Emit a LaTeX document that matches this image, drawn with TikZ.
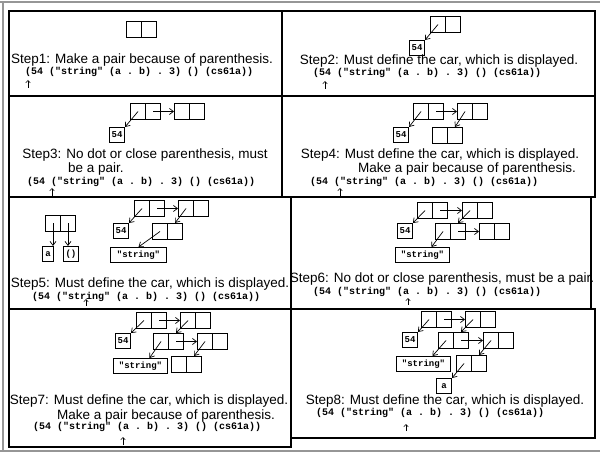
\documentclass[tikz,border=0pt]{standalone}
\usepackage{fontspec}
\setmainfont{Liberation Sans}
\setmonofont{Liberation Mono}
\usetikzlibrary{arrows.meta}
\definecolor{framegray}{RGB}{150,150,150}
\tikzset{
  cell/.style={draw, line width=1pt, minimum width=15pt, minimum height=16pt, inner sep=0pt, anchor=north west},
  atom/.style={draw, line width=1pt, minimum height=15pt, minimum width=15pt, inner xsep=2pt, inner ysep=0pt, font=\ttfamily\bfseries\fontsize{9}{10}\selectfont, anchor=north west},
  ptr/.style={line width=0.7pt, -{Straight Barb[length=4pt,width=6pt]}},
  stepmark/.style={line width=0.5pt, -{Straight Barb[length=2.5pt,width=4.5pt]}},
  panel/.style={draw, line width=1.1pt},
  outer/.style={draw=framegray, line width=2pt},
  txt/.style={font=\fontsize{13.5}{16}\selectfont, inner sep=0pt},
  txtl/.style={txt, anchor=west},
  code/.style={font=\ttfamily\bfseries\fontsize{10}{12}\selectfont, inner sep=0pt, anchor=west},
}
\newcommand\mkpair[3]{\node[cell] (#1a) at (#2,#3) {}; \node[cell] (#1d) at ({#2+15},#3) {};}
\newcommand\codeline{(54 ("string" (a . b) . 3) () (cs61a))}
\begin{document}
\begin{tikzpicture}[x=1pt,y=-1pt]
\useasboundingbox (0,0) rectangle (600,454);
% outer frame
\draw[outer] (0,2) -- (600,2);
\draw[outer] (3,2) -- (3,451);
\draw[outer] (0,451) -- (600,451);
% panels
\draw[panel] (9,11) rectangle (282,96);
\draw[panel] (282,11) rectangle (595,96);
\draw[panel] (9,96) rectangle (282,197);
\draw[panel] (282,96) rectangle (595,197);
\draw[panel] (9,197) rectangle (291,309);
\draw[panel] (291,197) rectangle (591,309);
\draw[panel] (9,309) rectangle (291,447);
\draw[panel] (291,309) rectangle (595,438);

% ---------- Step 1
\mkpair{paA}{126}{21}
\node[txt] (t1) at (142,60) {Step1: Make a pair because of parenthesis.};
\node[code] (c1) at (25,72) {\codeline};
\coordinate (m1s) at (28,88); \coordinate (m1e) at (28,80);
\draw[stepmark] (m1s) -- (m1e);

% ---------- Step 2
\mkpair{pbA}{430}{16}
\node[atom] (pb54) at (409,40) {54};
\draw[ptr] (pbAa.center) -- (pb54.north east);
\node[txt] (t2) at (439,61) {Step2: Must define the car, which is displayed.};
\node[code] (c2) at (313,73) {\codeline};
\coordinate (m2s) at (325,89); \coordinate (m2e) at (325,81);
\draw[stepmark] (m2s) -- (m2e);

% ---------- Step 3
\mkpair{pcA}{130}{103}
\mkpair{pcB}{174}{103}
\node[atom] (pc54) at (109,127) {54};
\draw[ptr] (pcAa.center) -- (pc54.north east);
\draw[ptr] (pcAd.center) -- (pcBa.west);
\node[txt] (t3a) at (145,155) {Step3: No dot or close parenthesis, must};
\node[txtl] (t3b) at (68,169) {be a pair.};
\node[code] (c3) at (27,182) {\codeline};
\coordinate (m3s) at (52,196); \coordinate (m3e) at (52,188);
\draw[stepmark] (m3s) -- (m3e);

% ---------- Step 4
\mkpair{pdA}{413}{103}
\mkpair{pdB}{457}{103}
\node[atom] (pd54) at (393,127) {54};
\mkpair{pdC}{432}{127}
\draw[ptr] (pdAa.center) -- (pd54.north east);
\draw[ptr] (pdAd.center) -- (pdBa.west);
\draw[ptr] (pdBa.center) -- (pdCd.north);
\node[txt] (t4a) at (440,155) {Step4: Must define the car, which is displayed.};
\node[txtl] (t4b) at (358,169) {Make a pair because of parenthesis.};
\node[code] (c4) at (310,182) {\codeline};
\coordinate (m4s) at (340,196); \coordinate (m4e) at (340,188);
\draw[stepmark] (m4s) -- (m4e);

% ---------- Step 5
\mkpair{peD}{45}{215}
\node[atom, minimum width=11pt, inner xsep=1pt] (pea) at (42,246) {a};
\node[atom] (penil) at (63,246) {()};
\draw[ptr] (peDa.center) -- (peDa.center |- pea.north);
\draw[ptr] (peDd.center) -- (peDd.center |- penil.north);
\mkpair{peA}{134}{200}
\mkpair{peB}{178}{200}
\node[atom] (pe54) at (113,223) {54};
\mkpair{peC}{152}{223}
\node[atom, minimum width=56pt] (pes) at (110,247) {"string"};
\draw[ptr] (peAa.center) -- (pe54.north east);
\draw[ptr] (peAd.center) -- (peBa.west);
\draw[ptr] (peBa.center) -- (peCd.north);
\draw[ptr] (peCa.center) -- (pes.north);
\node[txt] (t5) at (150,284) {Step5: Must define the car, which is displayed.};
\node[code] (c5) at (32,297) {\codeline};
\coordinate (m5s) at (86,306); \coordinate (m5e) at (86,299);
\draw[stepmark] (m5s) -- (m5e);

% ---------- Step 6
\mkpair{pfA}{417}{202}
\mkpair{pfB}{462}{202}
\node[atom] (pf54) at (397,223) {54};
\mkpair{pfC}{435}{223}
\mkpair{pfE}{479}{223}
\node[atom, minimum width=54pt] (pfs) at (395,247) {"string"};
\draw[ptr] (pfAa.center) -- (pf54.north east);
\draw[ptr] (pfAd.center) -- (pfBa.west);
\draw[ptr] (pfBa.center) -- (pfCd.north);
\draw[ptr] (pfCd.center) -- (pfEa.west);
\draw[ptr] (pfCa.center) -- ([xshift=9pt]pfs.north);
\node[txt] (t6) at (442,279) {Step6: No dot or close parenthesis, must be a pair.};
\node[code] (c6) at (313,292) {\codeline};
\coordinate (m6s) at (408,305); \coordinate (m6e) at (408,298);
\draw[stepmark] (m6s) -- (m6e);

% ---------- Step 7
\mkpair{pgA}{136}{312}
\mkpair{pgB}{180}{312}
\node[atom] (pg54) at (115,333) {54};
\mkpair{pgC}{153}{333}
\mkpair{pgE}{197}{333}
\node[atom, minimum width=54pt] (pgs) at (113,358) {"string"};
\mkpair{pgF}{171}{356}
\draw[ptr] (pgAa.center) -- (pg54.north east);
\draw[ptr] (pgAd.center) -- (pgBa.west);
\draw[ptr] (pgBa.center) -- (pgCd.north);
\draw[ptr] (pgCd.center) -- (pgEa.west);
\draw[ptr] (pgCa.center) -- ([xshift=9pt]pgs.north);
\draw[ptr] (pgEa.center) -- (pgFd.north);
\node[txt] (t7a) at (149,401) {Step7: Must define the car, which is displayed.};
\node[txtl] (t7b) at (57,416) {Make a pair because of parenthesis.};
\node[code] (c7) at (33,427) {\codeline};
\coordinate (m7s) at (123,445); \coordinate (m7e) at (123,437);
\draw[stepmark] (m7s) -- (m7e);

% ---------- Step 8
\mkpair{phA}{421}{311}
\mkpair{phB}{465}{311}
\node[atom] (ph54) at (402,332) {54};
\mkpair{phC}{438}{332}
\mkpair{phE}{483}{332}
\node[atom, minimum width=54pt] (phs) at (396,356) {"string"};
\mkpair{phF}{456}{355}
\node[atom] (pha) at (436,378) {a};
\draw[ptr] (phAa.center) -- (ph54.north east);
\draw[ptr] (phAd.center) -- (phBa.west);
\draw[ptr] (phBa.center) -- (phCd.north);
\draw[ptr] (phCd.center) -- (phEa.west);
\draw[ptr] (phCa.center) -- ([xshift=9pt]phs.north);
\draw[ptr] (phEa.center) -- (phFd.north);
\draw[ptr] (phFa.center) -- (pha.north east);
\node[txt] (t8) at (445,401) {Step8: Must define the car, which is displayed.};
\node[code] (c8) at (316,413) {\codeline};
\coordinate (m8s) at (406,431); \coordinate (m8e) at (406,424);
\draw[stepmark] (m8s) -- (m8e);
\end{tikzpicture}
\end{document}
